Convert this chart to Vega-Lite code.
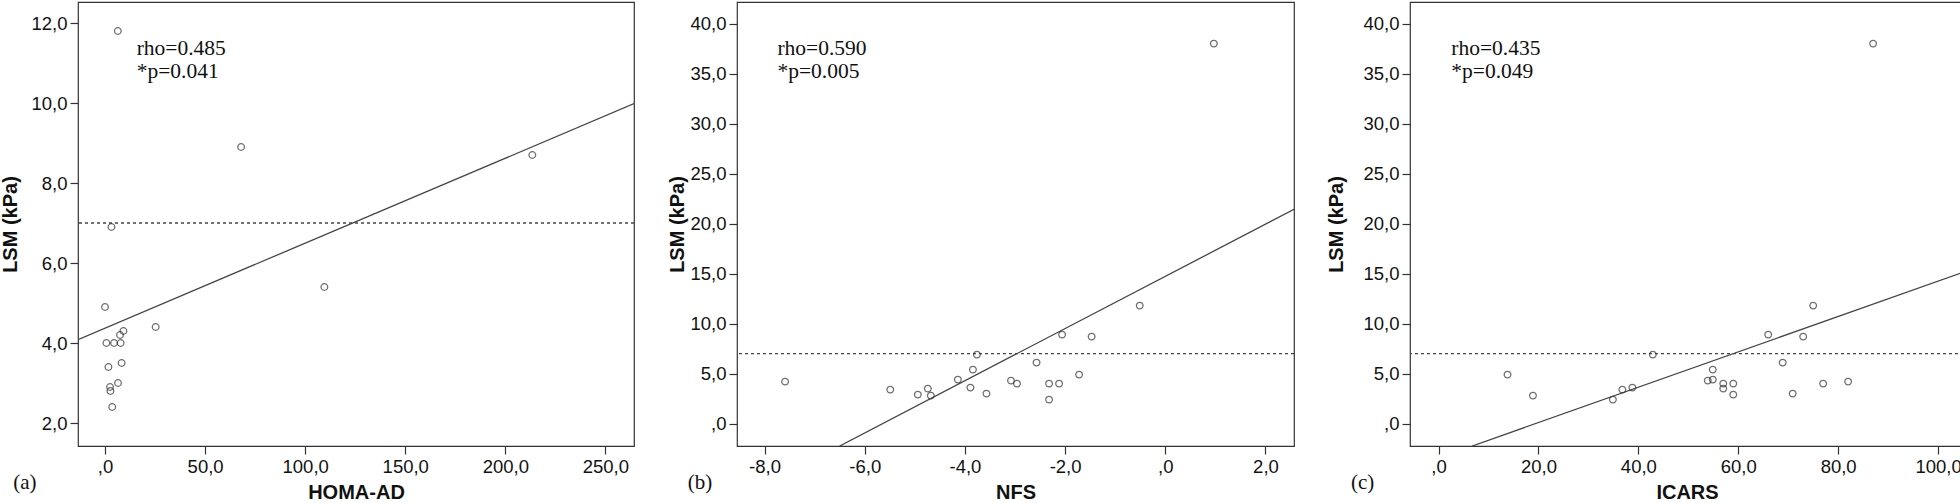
{
  "$schema": "https://vega.github.io/schema/vega-lite/v6.json",
  "padding": {"left": 0, "top": 1, "right": 0, "bottom": 0},
  "spacing": 30,
  "background": "white",
  "config": {
    "view": {"stroke": "#333", "strokeWidth": 1.2},
    "axis": {
      "grid": false, "domain": false, "tickColor": "#333", "tickSize": 8, "tickWidth": 1.2,
      "labelFont": "Liberation Sans", "labelFontSize": 18.5, "labelColor": "#111", "labelPadding": 3,
      "labelOverlap": false, "labelFlush": false, "labelBound": false,
      "titleFont": "Liberation Sans", "titleFontSize": 20, "titleFontWeight": "bold", "titleColor": "#111"
    },
    "axisX": {"titlePadding": 7},
    "point": {"shape": "circle", "filled": false, "size": 44, "stroke": "#333", "strokeWidth": 1.3},
    "line": {"stroke": "#444", "strokeWidth": 1.3},
    "rule": {"stroke": "#444", "strokeWidth": 1.3, "strokeDash": [3, 3]},
    "text": {"font": "Liberation Serif", "fontSize": 21.5, "color": "#111", "align": "left", "baseline": "alphabetic", "lineBreak": "\n", "lineHeight": 22.3}
  },
  "datasets": {
    "cutoff": [{"lsm": 7}],
    "a_points": [
      {"homa_ad": 6.4, "lsm": 11.8}, {"homa_ad": 68.0, "lsm": 8.9}, {"homa_ad": 213.5, "lsm": 8.7},
      {"homa_ad": 3.2, "lsm": 6.9}, {"homa_ad": 109.6, "lsm": 5.4}, {"homa_ad": 0.0, "lsm": 4.9},
      {"homa_ad": 25.3, "lsm": 4.4}, {"homa_ad": 9.2, "lsm": 4.3}, {"homa_ad": 7.5, "lsm": 4.2},
      {"homa_ad": 0.7, "lsm": 4.0}, {"homa_ad": 4.5, "lsm": 4.0}, {"homa_ad": 7.8, "lsm": 4.0},
      {"homa_ad": 8.3, "lsm": 3.5}, {"homa_ad": 1.7, "lsm": 3.4}, {"homa_ad": 6.5, "lsm": 3.0},
      {"homa_ad": 2.5, "lsm": 2.9}, {"homa_ad": 2.7, "lsm": 2.8}, {"homa_ad": 3.6, "lsm": 2.4}
    ],
    "a_fit": [{"homa_ad": -13.5, "lsm": 4.085}, {"homa_ad": 264.3, "lsm": 9.985}],
    "a_note": [{"note": "rho=0.485\n*p=0.041"}],
    "b_points": [
      {"nfs": -7.59, "lsm": 4.2}, {"nfs": -5.49, "lsm": 3.4}, {"nfs": -4.94, "lsm": 2.9},
      {"nfs": -4.74, "lsm": 3.5}, {"nfs": -4.68, "lsm": 2.8}, {"nfs": -4.14, "lsm": 4.4},
      {"nfs": -3.89, "lsm": 3.6}, {"nfs": -3.84, "lsm": 5.4}, {"nfs": -3.76, "lsm": 6.9},
      {"nfs": -3.57, "lsm": 3.0}, {"nfs": -3.08, "lsm": 4.3}, {"nfs": -2.96, "lsm": 4.0},
      {"nfs": -2.57, "lsm": 6.1}, {"nfs": -2.32, "lsm": 4.0}, {"nfs": -2.32, "lsm": 2.4},
      {"nfs": -2.12, "lsm": 4.0}, {"nfs": -2.06, "lsm": 8.9}, {"nfs": -1.72, "lsm": 4.9},
      {"nfs": -1.47, "lsm": 8.7}, {"nfs": -0.51, "lsm": 11.8}, {"nfs": 0.97, "lsm": 38.0}
    ],
    "b_fit": [{"nfs": -6.5, "lsm": -2.24}, {"nfs": 2.57, "lsm": 21.43}],
    "b_note": [{"note": "rho=0.590\n*p=0.005"}],
    "c_points": [
      {"icars": 13.8, "lsm": 4.9}, {"icars": 18.9, "lsm": 2.8}, {"icars": 34.9, "lsm": 2.4},
      {"icars": 36.8, "lsm": 3.4}, {"icars": 38.8, "lsm": 3.6}, {"icars": 42.9, "lsm": 6.9},
      {"icars": 53.9, "lsm": 4.3}, {"icars": 54.9, "lsm": 4.4}, {"icars": 54.9, "lsm": 5.4},
      {"icars": 57.0, "lsm": 4.0}, {"icars": 57.0, "lsm": 3.5}, {"icars": 59.0, "lsm": 4.0},
      {"icars": 59.0, "lsm": 2.9}, {"icars": 66.0, "lsm": 8.9}, {"icars": 68.9, "lsm": 6.1},
      {"icars": 70.9, "lsm": 3.0}, {"icars": 73.0, "lsm": 8.7}, {"icars": 75.0, "lsm": 11.8},
      {"icars": 77.0, "lsm": 4.0}, {"icars": 82.0, "lsm": 4.2}, {"icars": 87.0, "lsm": 38.0}
    ],
    "c_fit": [{"icars": 6.74, "lsm": -2.24}, {"icars": 105.2, "lsm": 15.16}],
    "c_note": [{"note": "rho=0.435\n*p=0.049"}]
  },
  "hconcat": [
    {
      "width": 556, "height": 444,
      "title": {"text": "(a)", "orient": "bottom", "anchor": "start", "frame": "group", "dx": -64.7, "offset": -13.5, "baseline": "alphabetic", "font": "Liberation Serif", "fontSize": 21, "fontWeight": "normal", "color": "#111"},
      "layer": [
        {"data": {"name": "cutoff"}, "mark": {"type": "rule"},
         "encoding": {"y": {"field": "lsm", "type": "quantitative", "scale": {"domain": [1.425, 12.525], "nice": false, "zero": false}}}},
        {"data": {"name": "a_fit"}, "mark": {"type": "line", "clip": true},
         "encoding": {
           "x": {"field": "homa_ad", "type": "quantitative", "scale": {"domain": [-13.5, 264.3], "nice": false, "zero": false}},
           "y": {"field": "lsm", "type": "quantitative", "scale": {"domain": [1.425, 12.525], "nice": false, "zero": false}}}},
        {"data": {"name": "a_points"}, "mark": {"type": "point"},
         "encoding": {
           "x": {"field": "homa_ad", "type": "quantitative", "scale": {"domain": [-13.5, 264.3], "nice": false, "zero": false},
                 "axis": {"title": "HOMA-AD", "values": [0, 50, 100, 150, 200, 250], "labelExpr": "datum.value == 0 ? ',0' : replace(replace(format(datum.value, '.1f'), '.', ','), '\u2212', '-')"}},
           "y": {"field": "lsm", "type": "quantitative", "scale": {"domain": [1.425, 12.525], "nice": false, "zero": false},
                 "axis": {"title": "LSM (kPa)", "titlePadding": 10.3, "values": [2, 4, 6, 8, 10, 12], "labelExpr": "datum.value == 0 ? ',0' : replace(replace(format(datum.value, '.1f'), '.', ','), '\u2212', '-')"}}}},
        {"data": {"name": "a_note"}, "mark": {"type": "text"},
         "encoding": {
           "x": {"datum": 15.8, "type": "quantitative", "scale": {"domain": [-13.5, 264.3], "nice": false, "zero": false}},
           "y": {"datum": 11.19, "type": "quantitative", "scale": {"domain": [1.425, 12.525], "nice": false, "zero": false}},
           "text": {"field": "note"}}}
      ]
    },
    {
      "width": 557, "height": 444,
      "title": {"text": "(b)", "orient": "bottom", "anchor": "start", "frame": "group", "dx": -49.2, "offset": -13.5, "baseline": "alphabetic", "font": "Liberation Serif", "fontSize": 21, "fontWeight": "normal", "color": "#111"},
      "layer": [
        {"data": {"name": "cutoff"}, "mark": {"type": "rule"},
         "encoding": {"y": {"field": "lsm", "type": "quantitative", "scale": {"domain": [-2.24, 42.16], "nice": false, "zero": false}}}},
        {"data": {"name": "b_fit"}, "mark": {"type": "line", "clip": true},
         "encoding": {
           "x": {"field": "nfs", "type": "quantitative", "scale": {"domain": [-8.55, 2.57], "nice": false, "zero": false}},
           "y": {"field": "lsm", "type": "quantitative", "scale": {"domain": [-2.24, 42.16], "nice": false, "zero": false}}}},
        {"data": {"name": "b_points"}, "mark": {"type": "point"},
         "encoding": {
           "x": {"field": "nfs", "type": "quantitative", "scale": {"domain": [-8.55, 2.57], "nice": false, "zero": false},
                 "axis": {"title": "NFS", "values": [-8, -6, -4, -2, 0, 2], "labelExpr": "datum.value == 0 ? ',0' : replace(replace(format(datum.value, '.1f'), '.', ','), '\u2212', '-')"}},
           "y": {"field": "lsm", "type": "quantitative", "scale": {"domain": [-2.24, 42.16], "nice": false, "zero": false},
                 "axis": {"title": "LSM (kPa)", "titlePadding": 2.6, "values": [0, 5, 10, 15, 20, 25, 30, 35, 40], "labelExpr": "datum.value == 0 ? ',0' : replace(replace(format(datum.value, '.1f'), '.', ','), '\u2212', '-')"}}}},
        {"data": {"name": "b_note"}, "mark": {"type": "text"},
         "encoding": {
           "x": {"datum": -7.743, "type": "quantitative", "scale": {"domain": [-8.55, 2.57], "nice": false, "zero": false}},
           "y": {"datum": 36.83, "type": "quantitative", "scale": {"domain": [-2.24, 42.16], "nice": false, "zero": false}},
           "text": {"field": "note"}}}
      ]
    },
    {
      "width": 554, "height": 444,
      "title": {"text": "(c)", "orient": "bottom", "anchor": "start", "frame": "group", "dx": -59.1, "offset": -13.5, "baseline": "alphabetic", "font": "Liberation Serif", "fontSize": 21, "fontWeight": "normal", "color": "#111"},
      "layer": [
        {"data": {"name": "cutoff"}, "mark": {"type": "rule"},
         "encoding": {"y": {"field": "lsm", "type": "quantitative", "scale": {"domain": [-2.24, 42.16], "nice": false, "zero": false}}}},
        {"data": {"name": "c_fit"}, "mark": {"type": "line", "clip": true},
         "encoding": {
           "x": {"field": "icars", "type": "quantitative", "scale": {"domain": [-5.72, 105.2], "nice": false, "zero": false}},
           "y": {"field": "lsm", "type": "quantitative", "scale": {"domain": [-2.24, 42.16], "nice": false, "zero": false}}}},
        {"data": {"name": "c_points"}, "mark": {"type": "point"},
         "encoding": {
           "x": {"field": "icars", "type": "quantitative", "scale": {"domain": [-5.72, 105.2], "nice": false, "zero": false},
                 "axis": {"title": "ICARS", "values": [0, 20, 40, 60, 80, 100], "labelExpr": "datum.value == 0 ? ',0' : replace(replace(format(datum.value, '.1f'), '.', ','), '\u2212', '-')"}},
           "y": {"field": "lsm", "type": "quantitative", "scale": {"domain": [-2.24, 42.16], "nice": false, "zero": false},
                 "axis": {"title": "LSM (kPa)", "titlePadding": 16.2, "values": [0, 5, 10, 15, 20, 25, 30, 35, 40], "labelExpr": "datum.value == 0 ? ',0' : replace(replace(format(datum.value, '.1f'), '.', ','), '\u2212', '-')"}}}},
        {"data": {"name": "c_note"}, "mark": {"type": "text"},
         "encoding": {
           "x": {"datum": 2.55, "type": "quantitative", "scale": {"domain": [-5.72, 105.2], "nice": false, "zero": false}},
           "y": {"datum": 36.83, "type": "quantitative", "scale": {"domain": [-2.24, 42.16], "nice": false, "zero": false}},
           "text": {"field": "note"}}}
      ]
    }
  ]
}
